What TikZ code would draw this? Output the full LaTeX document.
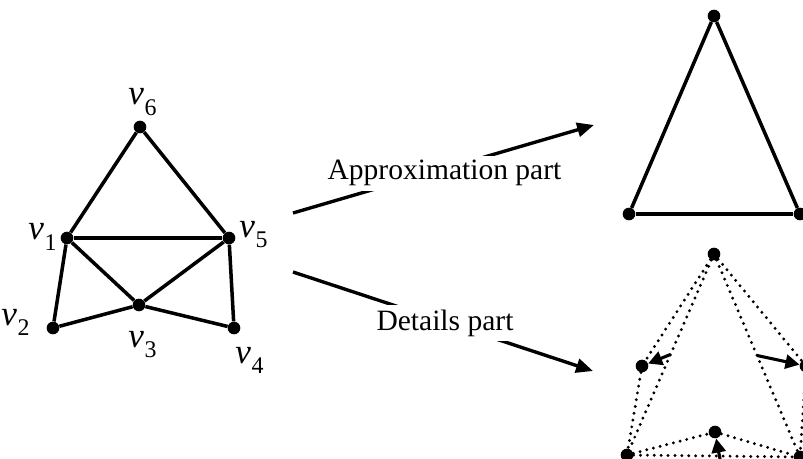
\documentclass[tikz,border=0pt]{standalone}
\usepackage{fontspec}
\setmainfont{Liberation Serif}
\usetikzlibrary{arrows.meta,calc}

\newcommand{\vname}[1]{{\fontsize{25}{28}\selectfont\textit{v}}\kern0.5pt\raisebox{-7.5pt}{\fontsize{17}{19}\selectfont #1}}

\begin{document}
\begin{tikzpicture}[
  x=0.025cm, y=-0.025cm,
  font=\fontsize{21}{25}\selectfont,
  dot/.style={circle, fill, inner sep=0pt, minimum size=9pt},
  lab/.style={anchor=base west, inner sep=0pt},
  edge/.style={line width=2.5pt},
  dots/.style={line width=2.3pt, line cap=round, dash pattern=on 0pt off 4.9pt},
  arr/.style={-{Triangle[length=12pt,width=10pt]}, line width=2.4pt},
  sarr/.style={-{Triangle[length=10pt,width=10pt]}, line width=2.2pt},
  part/.style={fill=white, inner sep=3pt, anchor=base}
]
\useasboundingbox (0,0) rectangle (803,459);
\clip (0,0) rectangle (803,459);

% original mesh
\node[dot] (v6) at (140,127) {};
\node[dot] (v1) at (67,238) {};
\node[dot] (v5) at (229,238) {};
\node[dot] (v3) at (139,305) {};
\node[dot] (v2) at (53,328) {};
\node[dot] (v4) at (234,328) {};
\draw[edge] (v6) -- (v1);
\draw[edge] (v6) -- (v5);
\draw[edge] (v1) -- (v5);
\draw[edge] (v1) -- (v3);
\draw[edge] (v5) -- (v3);
\draw[edge] (v1) -- (v2);
\draw[edge] (v5) -- (v4);
\draw[edge] (v2) -- (v3);
\draw[edge] (v3) -- (v4);
\node[lab] (l6) at (128,105) {\vname{6}};
\node[lab] (l1) at (28,240) {\vname{1}};
\node[lab] (l5) at (239,237) {\vname{5}};
\node[lab] (l2) at (1,325) {\vname{2}};
\node[lab] (l3) at (128,347) {\vname{3}};
\node[lab] (l4) at (235,363) {\vname{4}};

% split arrows
\coordinate (a0) at (293,213);
\coordinate (a1) at (594,125);
\coordinate (d0) at (293,272);
\coordinate (d1) at (593,371);
\draw[arr] (a0) -- (a1);
\draw[arr] (d0) -- (d1);
\node[part] (approx) at (444.5,180) {Approximation part};
\node[part] (detail) at (445,330) {Details part};

% approximation part
\node[dot] (at) at (714,16) {};
\node[dot] (al) at (629,214) {};
\node[dot] (ar) at (800,214) {};
\draw[edge] (at) -- (al);
\draw[edge] (at) -- (ar);
\draw[edge] (al) -- (ar);

% details part
\node[dot] (t) at (714,254) {};
\node[dot] (bl) at (627,455) {};
\node[dot] (br) at (800,457) {};
\node[dot] (ml) at (642,366) {};
\node[dot] (mr) at (806,366) {};
\node[dot] (mb) at (715,432) {};
\draw[dots] (t) -- (bl);
\draw[dots] (t) -- (br);
\draw[dots] (bl) -- (br);
\draw[dots] (t) -- (ml) -- (bl);
\draw[dots] (t) -- (mr) -- (br);
\draw[dots] (bl) -- (mb) -- (br);
\coordinate (el) at ($(t)!.5!(bl)$);
\coordinate (er) at ($(t)!.5!(br)$);
\coordinate (eb) at (722,470);
\draw[sarr] (el) -- (ml);
\draw[sarr] (er) -- (mr);
\draw[sarr] (eb) -- (mb);
\end{tikzpicture}
\end{document}
